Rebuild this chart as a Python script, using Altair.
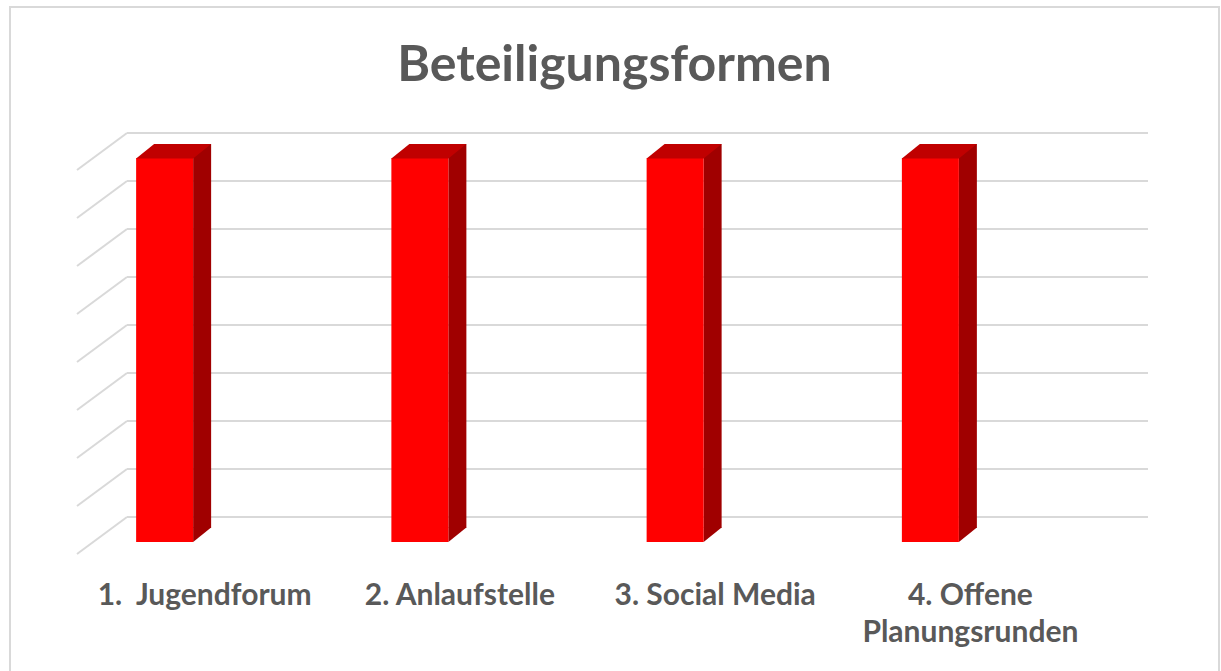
import altair as alt
import pandas as pd

# ---- data ----
categories = ["1.\u00a0 Jugendforum", "2. Anlaufstelle", "3. Social Media", "4. Offene\nPlanungsrunden"]
values = [8, 8, 8, 8]            # all four bars reach the top gridline
grid_values = [0, 1, 2, 3, 4, 5, 6, 7, 8]

# ---- layout / style ----
W, H = 1021, 384          # front plane of the 3D box
DX, DY = 50, 37           # depth of the back wall (pixels)
GRID = "#d9d9d9"
FRONT, TOP, SIDE = "#ff0000", "#c00000", "#a00000"
TXT = "#595959"

bars = pd.DataFrame({"cat": categories, "v": values, "zero": [0] * len(values)})
grid = pd.DataFrame({"g": grid_values})
frame = pd.DataFrame({"a": [0]})

yscale = alt.Scale(domain=[0, 8], nice=False, zero=True)
xenc = alt.X(
    "cat:N", sort=categories,
    scale=alt.Scale(paddingInner=0, paddingOuter=0),
    axis=alt.Axis(title=None, labelAngle=0, ticks=False, domain=False, grid=False,
                  labelFont="Lato", labelFontWeight="bold", labelFontSize=30,
                  labelColor=TXT, labelPadding=26, labelLineHeight=37, labelLimit=0,
                  labelExpr="split(datum.label, '\\n')"),
)

border = alt.Chart(frame).mark_rect(fillOpacity=0, stroke=GRID, strokeWidth=2).encode(
    x=alt.value(-67), x2=alt.value(1142), y=alt.value(-163), y2=alt.value(530)
)

wall = alt.Chart(grid).mark_rule(color=GRID, strokeWidth=2, yOffset=-DY).encode(
    y=alt.Y("g:Q", scale=yscale, axis=None),
    x=alt.value(DX), x2=alt.value(W + DX),
)

diag = alt.Chart(grid).mark_rule(color=GRID, strokeWidth=2, y2Offset=-DY).encode(
    y=alt.Y("g:Q", scale=yscale, axis=None), y2="g:Q",
    x=alt.value(0), x2=alt.value(DX),
)

side = alt.Chart(bars).mark_bar(color=SIDE, size=18, xOffset=-2.5, yOffset=-26, y2Offset=-26).encode(
    x=xenc, y=alt.Y("v:Q", scale=yscale, axis=None), y2="zero:Q"
)

side_bottom = alt.Chart(bars).mark_point(
    shape="M -11.5 -26.5 L -11.5 -12 L 6.5 -26.5 Z", size=4, filled=True,
    color=SIDE, opacity=1, strokeWidth=0
).encode(x=xenc, y=alt.Y("zero:Q", scale=yscale, axis=None))

front = alt.Chart(bars).mark_bar(color=FRONT, size=57, xOffset=-40, yOffset=-12, y2Offset=-12).encode(
    x=xenc, y=alt.Y("v:Q", scale=yscale, axis=None), y2="zero:Q"
)

top = alt.Chart(bars).mark_point(
    shape="M -68.5 -11.5 L -11.5 -11.5 L 6.5 -26 L -50.5 -26 Z", size=4, filled=True,
    color=TOP, opacity=1, strokeWidth=0
).encode(x=xenc, y=alt.Y("v:Q", scale=yscale, axis=None))

chart = alt.layer(border, wall, diag, side, side_bottom, front, top).properties(
    width=W, height=H,
    background="white",
    autosize=alt.AutoSizeParams(type="none"),
    padding={"left": 77, "top": 170, "right": 123, "bottom": 117},
    title=alt.TitleParams("Beteiligungsformen", font="Lato", fontSize=50, fontWeight="bold",
                          color=TXT, anchor="middle", dx=27, offset=-85),
).configure_view(stroke=None)

chart.save("out.html", embed_options={"renderer": "svg", "actions": False})
